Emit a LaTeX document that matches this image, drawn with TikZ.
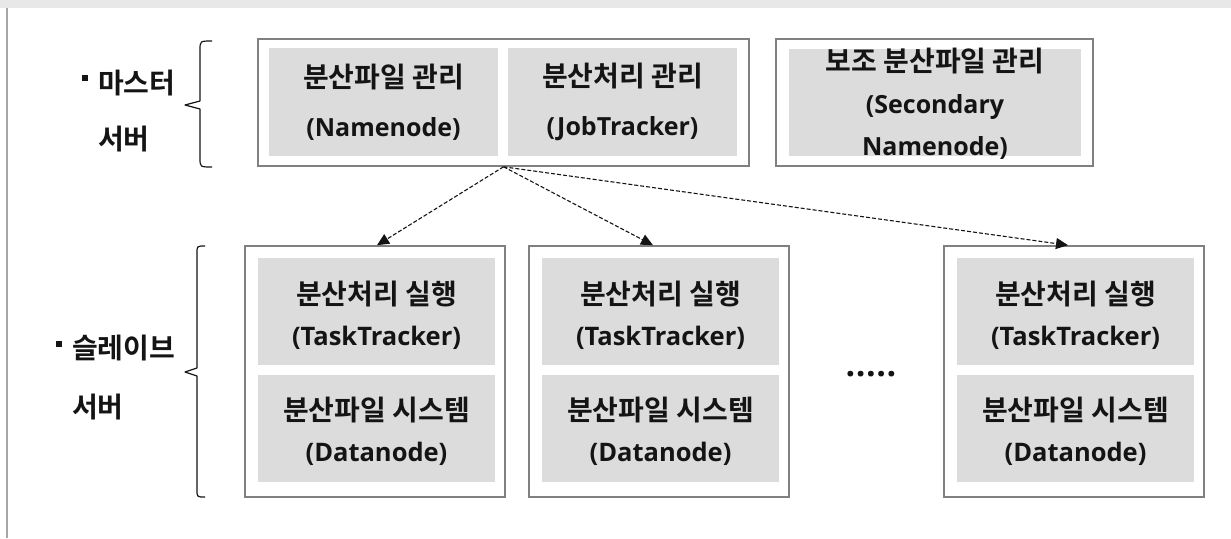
\documentclass[tikz,border=0pt]{standalone}
\usepackage{fontspec}
\setmainfont{Open Sans}
\newfontfamily\krfont{Noto Sans CJK KR}[BoldFont={Noto Sans CJK KR Bold}]
\usetikzlibrary{arrows.meta}

\definecolor{boxline}{HTML}{808080}
\definecolor{cellfill}{HTML}{DCDCDC}
\definecolor{bandfill}{HTML}{E8E8E8}
\definecolor{edgeline}{HTML}{A6A6A6}
\definecolor{ink}{HTML}{141414}

\tikzset{
  outerbox/.style={draw=boxline, line width=1.6pt, fill=white, inner sep=0pt},
  cell/.style={fill=cellfill, inner sep=0pt, align=center, text=ink},
  celltext/.style={inner sep=0pt, align=center, text=ink},
  sidelabel/.style={inner sep=0pt, anchor=base west, text=ink,
    font=\krfont\bfseries\fontsize{28}{32}\selectfont},
  bracket/.style={draw=ink, line width=1.2pt, line join=round},
  link/.style={draw=ink, line width=1.1pt, dash pattern=on 4pt off 2pt,
    -{Triangle[length=12pt,width=11pt]}},
}
\newcommand{\kr}[1]{{\krfont\bfseries\fontsize{28}{32}\selectfont #1}}
\newcommand{\sqbullet}[1]{\llap{\rule[#1]{6pt}{6pt}\hspace{10pt}}}

\begin{document}
\begin{tikzpicture}[x=1pt,y=-1pt]
  \useasboundingbox (0,0) rectangle (1231,538);
  % page frame
  \fill[bandfill] (0,0) rectangle (1231,8);
  \draw[edgeline, line width=2pt] (7,8) -- (7,538);

  % master tier
  \node[outerbox, minimum width=491pt, minimum height=127pt] (master) at (503.5,102.5) {};
  \node[cell, minimum width=229pt, minimum height=108pt,
        font=\bfseries\fontsize{25}{49}\selectfont] (nn) at (383.5,102)
        {\kr{분산파일 관리}\\(Namenode)};
  \node[cell, minimum width=229pt, minimum height=108pt,
        font=\bfseries\fontsize{25}{49}\selectfont] (jt) at (622.5,102)
        {\kr{분산처리 관리}\\(JobTracker)};

  \node[outerbox, minimum width=317pt, minimum height=127pt] (second) at (934.5,102.5) {};
  \node[cell, minimum width=292pt, minimum height=107pt] (snfill) at (935,102.5) {};
  \node[celltext, font=\bfseries\fontsize{25}{42}\selectfont] (sn) at (935,104)
        {\kr{보조 분산파일 관리}\\(Secondary\\Namenode)};

  % slave tier (yshift is in canvas units, so negative moves down)
  \foreach \i/\cx in {1/375, 2/659, 3/1074}{
    \node[outerbox, minimum width=260pt, minimum height=251pt] (s\i) at (\cx,371.5) {};
    \node[cell, minimum width=237pt, minimum height=107pt] (ttfill\i) at (\cx+1.5,311.5) {};
    \node[celltext, font=\bfseries\fontsize{25.5}{41}\selectfont] (tt\i)
          at ([yshift=-4pt]ttfill\i.center) {\kr{분산처리 실행}\\(TaskTracker)};
    \node[cell, minimum width=237pt, minimum height=107pt] (dnfill\i) at (\cx+1.5,428.5) {};
    \node[celltext, font=\bfseries\fontsize{25.5}{41}\selectfont] (dn\i)
          at ([yshift=-3pt]dnfill\i.center) {\kr{분산파일 시스템}\\(Datanode)};
  }
  \node[inner sep=0pt, anchor=base, text=ink, font=\bfseries\fontsize{34}{36}\selectfont]
        (dots) at (871,376) {.\kern0.6pt.\kern0.6pt.\kern0.6pt.\kern0.6pt.};

  % links from the master to the slaves
  \draw[link] (master.south) -- ([xshift=2pt]s1.north);
  \draw[link] (master.south) -- ([xshift=-6pt]s2.north);
  \draw[link] (master.south) -- ([xshift=-6pt]s3.north);

  % side labels with braces
  \node[sidelabel] (mlab) at (98,93) {\sqbullet{12pt}마스터};
  \node[sidelabel] (mlab2) at (98,149) {서버};
  \draw[bracket] (212,41) .. controls (200,41) .. (200,50)
        -- (200,101) -- (185,105) -- (200,109) -- (200,158)
        .. controls (200,167) .. (212,167);

  \node[sidelabel] (slab) at (72,358) {\sqbullet{11pt}슬레이브};
  \node[sidelabel] (slab2) at (72,417) {서버};
  \draw[bracket] (205,246) .. controls (197,246) .. (197,253)
        -- (197,368) -- (185,372) -- (197,376) -- (197,490)
        .. controls (197,497) .. (205,497);
\end{tikzpicture}
\end{document}
